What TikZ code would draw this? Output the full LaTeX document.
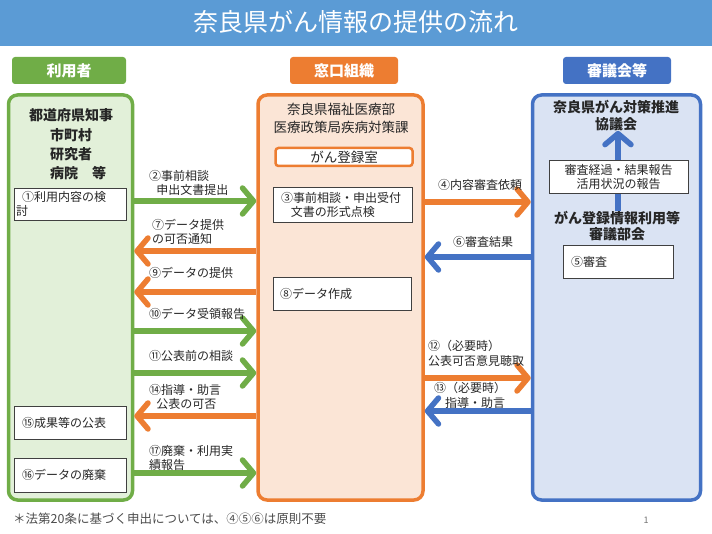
\documentclass[tikz,border=0pt]{standalone}
\usepackage{fontspec}
\setmainfont{Noto Sans CJK JP}
\usetikzlibrary{arrows.meta}
\definecolor{gr}{HTML}{70AD47}
\definecolor{grl}{HTML}{E2F0D9}
\definecolor{orn}{HTML}{ED7D31}
\definecolor{ornl}{HTML}{FBE5D6}
\definecolor{blu}{HTML}{4472C4}
\definecolor{blul}{HTML}{DAE3F3}
\definecolor{ttl}{HTML}{5B9BD5}
\definecolor{txt}{HTML}{262626}
\begin{document}
\begin{tikzpicture}[x=1pt,y=-1pt,
  panel/.style={draw=#1, line width=3.5pt, rounded corners=9pt, inner sep=0pt},
  head/.style={fill=#1, rounded corners=3pt, minimum width=112pt, minimum height=27pt, text=white, font=\fontsize{15}{17}\selectfont\bfseries, inner sep=0pt},
  wbox/.style={draw=black!75, fill=white, line width=0.7pt, inner sep=0pt},
  lbl/.style={anchor=west, align=left, inner sep=0pt, text=txt, font=\fontsize{12}{14.5}\selectfont},
  arr/.style={draw=#1, line width=5.5pt, -{Straight Barb[round,length=11pt,width=26pt]}},
]
\useasboundingbox (0,0) rectangle (712,534);
% title
\fill[ttl] (0,0) rectangle (712,46);
\node[text=white, font=\fontsize{25}{28}\selectfont] (title) at (356,22) {奈良県がん情報の提供の流れ};
% headers
\node[head=gr, minimum width=114pt] (hL) at (69,70.5) {利用者};
\node[head=orn, minimum width=108pt] (hM) at (344,70.5) {窓口組織};
\node[head=blu, minimum width=108pt] (hR) at (617,70.5) {審議会等};
% panels
\node[panel=gr, fill=grl, minimum width=124pt, minimum height=405pt] (L) at (70.5,297.5) {};
\node[panel=orn, fill=ornl, minimum width=165pt, minimum height=405pt] (M) at (340.5,297.5) {};
\node[panel=blu, fill=blul, minimum width=168pt, minimum height=405pt] (R) at (616.5,297.5) {};
% left texts
\begin{scope}[every node/.style={text=txt, font=\fontsize{14}{16}\selectfont\bfseries, inner sep=0pt}]
\node (l1) at (71,115) {都道府県知事};
\node[anchor=west] (l2) at (50,135) {市町村};
\node[anchor=west] (l3) at (50,154) {研究者};
\node[anchor=west] (l4) at (50,173) {病院　等};
\end{scope}
\node[wbox, minimum width=112pt, minimum height=32pt] (b1) at (70,204) {};
\node[lbl] (b1t) at (16,204) {\hspace{0.5em}①利用内容の検\\討};
\node[wbox, minimum width=112pt, minimum height=33pt] (b15) at (70,423) {};
\node[lbl] (b15t) at (22,423) {⑮成果等の公表};
\node[wbox, minimum width=112pt, minimum height=34pt] (b16) at (70,475) {};
\node[lbl] (b16t) at (22,475) {⑯データの廃棄};
% middle texts
\begin{scope}[every node/.style={text=txt, font=\fontsize{13.5}{16}\selectfont, inner sep=0pt}]
\node (m1) at (341,109) {奈良県福祉医療部};
\node (m2) at (341,127) {医療政策局疾病対策課};
\end{scope}
\node[draw=orn, fill=white, line width=2.5pt, rounded corners=3pt, minimum width=137pt, minimum height=18pt, inner sep=0pt, text=txt, font=\fontsize{13.5}{16}\selectfont] (reg) at (344,157) {がん登録室};
\node[wbox, minimum width=139pt, minimum height=35pt] (b3) at (342.5,204.5) {};
\node[lbl] (b3t) at (281,205) {③事前相談・申出受付\\\hspace{0.8em}文書の形式点検};
\node[wbox, minimum width=138pt, minimum height=33pt] (b8) at (342,293.5) {};
\node[lbl] (b8t) at (280,293.5) {⑧データ作成};
% right texts
\begin{scope}[every node/.style={text=txt, font=\fontsize{14}{16}\selectfont\bfseries, inner sep=0pt}]
\node (r1) at (616,107) {奈良県がん対策推進};
\node (r2) at (616,124) {協議会};
\node (r3) at (617,218) {がん登録情報利用等};
\node (r4) at (617,234) {審議部会};
\end{scope}
\draw[arr=blu] (r3.north -| 618,0) -- (r2.south -| 618,0);
\node[wbox, minimum width=139pt, minimum height=33pt, align=center, text=txt, font=\fontsize{12}{14.5}\selectfont] (b45) at (618.5,177) {審査経過・結果報告\\活用状況の報告};
\node[wbox, minimum width=110pt, minimum height=33pt] (b5) at (618,261.5) {};
\node[lbl] (b5t) at (571,261.5) {⑤審査};
% arrows left gap
\draw[arr=gr] (L.east |- 0,201) -- (M.west |- 0,201);
\node[lbl] (t2) at (149,183) {②事前相談\\\hspace{0.6em}申出文書提出};
\draw[arr=orn] (M.west |- 0,251) -- (L.east |- 0,251);
\node[lbl] (t7) at (152,232) {⑦データ提供\\の可否通知};
\draw[arr=orn] (M.west |- 0,292) -- (L.east |- 0,292);
\node[lbl] (t9) at (149,273) {⑨データの提供};
\draw[arr=gr] (L.east |- 0,331) -- (M.west |- 0,331);
\node[lbl] (t10) at (149,314) {⑩データ受領報告};
\draw[arr=gr] (L.east |- 0,373) -- (M.west |- 0,373);
\node[lbl] (t11) at (149,356) {⑪公表前の相談};
\draw[arr=orn] (M.west |- 0,416) -- (L.east |- 0,416);
\node[lbl] (t14) at (149,397) {⑭指導・助言\\\hspace{0.6em}公表の可否};
\draw[arr=gr] (L.east |- 0,473) -- (M.west |- 0,473);
\node[lbl] (t17) at (149,458) {⑰廃棄・利用実\\績報告};
% arrows right gap
\draw[arr=orn] (M.east |- 0,202) -- (R.west |- 0,202);
\node[lbl] (t4) at (438,185) {④内容審査依頼};
\draw[arr=blu] (R.west |- 0,257) -- (M.east |- 0,257);
\node[lbl] (t6) at (453,242) {⑥審査結果};
\draw[arr=orn] (M.east |- 0,378) -- (R.west |- 0,378);
\node[lbl] (t12) at (428,353.5) {⑫（必要時）\\公表可否意見聴取};
\draw[arr=blu] (R.west |- 0,411) -- (M.east |- 0,411);
\node[lbl] (t13) at (434,395.5) {⑬（必要時）\\\hspace{0.9em}指導・助言};
% footer
\node[lbl, text=black!70, font=\fontsize{12.5}{15}\selectfont] (foot) at (13,519) {＊法第20条に基づく申出については、④⑤⑥は原則不要};
\node[text=black!55, font=\fontsize{9}{11}\selectfont, inner sep=0pt] (pg) at (646,520) {1};
\end{tikzpicture}
\end{document}
